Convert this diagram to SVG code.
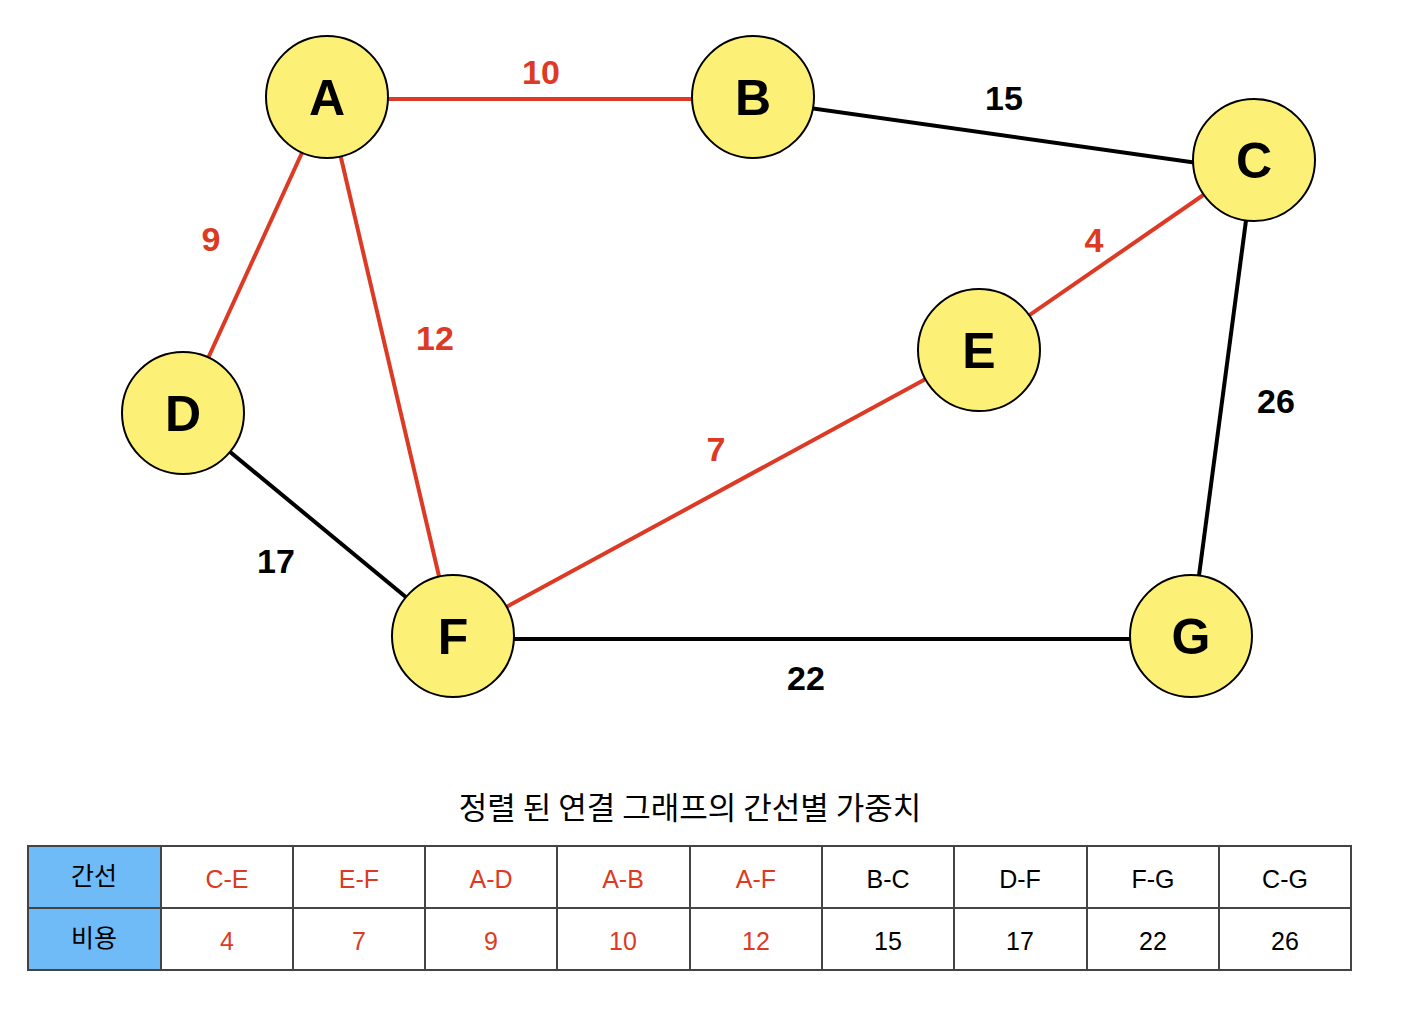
<svg xmlns="http://www.w3.org/2000/svg" width="1406" height="1014" viewBox="0 0 1406 1014">
<style>
.e{stroke-width:4;fill:none}
.r{stroke:#dc3a24}
.k{stroke:#000}
.n{fill:#fcf176;stroke:#000;stroke-width:2}
.nl{font-family:"Liberation Sans",Arial,sans-serif;font-weight:bold;font-size:50px;text-anchor:middle;fill:#000}
.wl{font-family:"Liberation Sans",Arial,sans-serif;font-weight:bold;font-size:34px;text-anchor:middle}
.wr{fill:#dc3a24}
.wk{fill:#000}
.c{fill:#fff;stroke:#444;stroke-width:2}
.h{fill:#6fbbf7;stroke:#444;stroke-width:2}
.t{font-family:"Liberation Sans",Arial,"Noto Sans CJK KR",sans-serif;font-size:25px;text-anchor:middle}
.tk{font-family:"Noto Sans CJK KR",sans-serif;font-size:25px;text-anchor:middle;fill:#000}
.title{font-size:31px}
</style>
<rect width="1406" height="1014" fill="#fff"/>
<g id="connectors">
<line class="e r" x1="327" y1="99" x2="753" y2="99"/>
<line class="e k" x1="753" y1="100" x2="1254" y2="171"/>
<line class="e r" x1="327" y1="98" x2="183" y2="413"/>
<line class="e r" x1="327" y1="98" x2="453" y2="636"/>
<line class="e r" x1="1254" y1="160" x2="979" y2="350"/>
<line class="e r" x1="979" y1="350" x2="453" y2="636"/>
<line class="e k" x1="1254" y1="160" x2="1191" y2="636"/>
<line class="e k" x1="183" y1="413" x2="453" y2="636"/>
<line class="e k" x1="453" y1="639" x2="1191" y2="639"/>
<text class="wl wr" x="541" y="84">10</text>
<text class="wl wk" x="1004" y="110">15</text>
<text class="wl wr" x="211" y="251">9</text>
<text class="wl wr" x="435" y="350">12</text>
<text class="wl wr" x="1094" y="252">4</text>
<text class="wl wk" x="1276" y="413">26</text>
<text class="wl wr" x="716" y="461">7</text>
<text class="wl wk" x="276" y="573">17</text>
<text class="wl wk" x="806" y="690">22</text>
</g>
<g id="node-A"><circle class="n" cx="327" cy="97" r="61"/><text class="nl" x="327" y="115">A</text></g>
<g id="node-B"><circle class="n" cx="753" cy="97" r="61"/><text class="nl" x="753" y="115">B</text></g>
<g id="node-C"><circle class="n" cx="1254" cy="160" r="61"/><text class="nl" x="1254" y="178">C</text></g>
<g id="node-D"><circle class="n" cx="183" cy="413" r="61"/><text class="nl" x="183" y="431">D</text></g>
<g id="node-E"><circle class="n" cx="979" cy="350" r="61"/><text class="nl" x="979" y="368">E</text></g>
<g id="node-F"><circle class="n" cx="453" cy="636" r="61"/><text class="nl" x="453" y="654">F</text></g>
<g id="node-G"><circle class="n" cx="1191" cy="636" r="61"/><text class="nl" x="1191" y="654">G</text></g>
<g id="table">
<text class="tk title" x="690" y="819">정렬 된 연결 그래프의 간선별 가중치</text>
<rect class="h" x="28" y="846" width="133" height="62"/>
<rect class="h" x="28" y="908" width="133" height="62"/>
<rect class="c" x="161" y="846" width="132" height="62"/><rect class="c" x="161" y="908" width="132" height="62"/>
<rect class="c" x="293" y="846" width="132" height="62"/><rect class="c" x="293" y="908" width="132" height="62"/>
<rect class="c" x="425" y="846" width="132" height="62"/><rect class="c" x="425" y="908" width="132" height="62"/>
<rect class="c" x="557" y="846" width="133" height="62"/><rect class="c" x="557" y="908" width="133" height="62"/>
<rect class="c" x="690" y="846" width="132" height="62"/><rect class="c" x="690" y="908" width="132" height="62"/>
<rect class="c" x="822" y="846" width="132" height="62"/><rect class="c" x="822" y="908" width="132" height="62"/>
<rect class="c" x="954" y="846" width="133" height="62"/><rect class="c" x="954" y="908" width="133" height="62"/>
<rect class="c" x="1087" y="846" width="132" height="62"/><rect class="c" x="1087" y="908" width="132" height="62"/>
<rect class="c" x="1219" y="846" width="132" height="62"/><rect class="c" x="1219" y="908" width="132" height="62"/>
<text class="tk" x="94" y="885">간선</text>
<text class="tk" x="94" y="947">비용</text>
<g class="t" fill="#dc3a24">
<text x="227" y="888">C-E</text><text x="359" y="888">E-F</text><text x="491" y="888">A-D</text><text x="623" y="888">A-B</text><text x="756" y="888">A-F</text>
<text x="227" y="950">4</text><text x="359" y="950">7</text><text x="491" y="950">9</text><text x="623" y="950">10</text><text x="756" y="950">12</text>
</g>
<g class="t" fill="#000">
<text x="888" y="888">B-C</text><text x="1020" y="888">D-F</text><text x="1153" y="888">F-G</text><text x="1285" y="888">C-G</text>
<text x="888" y="950">15</text><text x="1020" y="950">17</text><text x="1153" y="950">22</text><text x="1285" y="950">26</text>
</g>
</g>
</svg>
